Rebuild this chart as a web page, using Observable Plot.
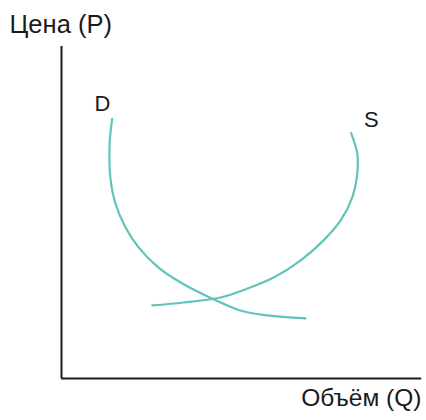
<!DOCTYPE html>
<html>
<head>
<meta charset="utf-8">
<script src="https://cdn.jsdelivr.net/npm/d3@7"></script>
<script src="https://cdn.jsdelivr.net/npm/@observablehq/plot@0.6"></script>
<style>
  html, body { margin: 0; padding: 0; background: #fff; }
  #chart svg { display: block; }
</style>
</head>
<body>
<div id="chart"></div>
<script>
// Demand curve D (quantity Q, price P)
const demandQ = [1.40, 1.33, 1.35, 1.49, 1.77, 2.13, 2.68, 3.34, 3.98, 4.94, 5.69, 6.74];
const demandP = [7.82, 7.08, 6.05, 5.27, 4.55, 3.95, 3.34, 2.86, 2.50, 2.05, 1.90, 1.81];
// Supply curve S
const supplyQ = [2.51, 3.37, 4.39, 5.14, 5.86, 6.60, 7.24, 7.71, 8.03, 8.17, 8.17, 8.00];
const supplyP = [2.20, 2.29, 2.44, 2.71, 3.04, 3.55, 4.16, 4.76, 5.45, 6.17, 6.78, 7.39];
// Curve labels
const curveNames = ["D", "S"];
const labelQ = [1.13, 8.56];
const labelP = [8.28, 7.80];
// Axis titles
const yTitle = "Цена (P)";
const xTitle = "Объём (Q)";

const demand = demandQ.map((q, i) => ({Q: q, P: demandP[i]}));
const supply = supplyQ.map((q, i) => ({Q: q, P: supplyP[i]}));
const labels = curveNames.map((n, i) => ({name: n, Q: labelQ[i], P: labelP[i]}));

const curveColor = "#62c3bb";
const font = "'Liberation Sans', Arial, sans-serif";

const chart = Plot.plot({
  width: 426,
  height: 420,
  marginLeft: 61,
  marginRight: 3,
  marginTop: 46,
  marginBottom: 42,
  x: {domain: [0, 10], axis: null},
  y: {domain: [0, 10], axis: null},
  style: {fontFamily: font, background: "#fff"},
  marks: [
    Plot.ruleX([0], {y1: 0, y2: 10, stroke: "#1a1a1a", strokeWidth: 2}),
    Plot.ruleY([0], {x1: 0, x2: 9.95, stroke: "#1a1a1a", strokeWidth: 2}),
    Plot.line(demand, {x: "Q", y: "P", curve: "catmull-rom", stroke: curveColor, strokeWidth: 2.2}),
    Plot.line(supply, {x: "Q", y: "P", curve: "catmull-rom", stroke: curveColor, strokeWidth: 2.2}),
    Plot.text(labels, {x: "Q", y: "P", text: "name", fontSize: 22, fill: "#1a1a1a", fontFamily: font}),
    Plot.text([yTitle], {frameAnchor: "top-left", textAnchor: "start", lineAnchor: "middle", dx: -52, dy: -22, fontSize: 25.5, fill: "#1a1a1a", fontFamily: font}),
    Plot.text([xTitle], {frameAnchor: "bottom-right", textAnchor: "end", lineAnchor: "middle", dx: -2, dy: 20, fontSize: 24.5, fill: "#1a1a1a", fontFamily: font})
  ]
});
document.getElementById("chart").appendChild(chart);
</script>
</body>
</html>
